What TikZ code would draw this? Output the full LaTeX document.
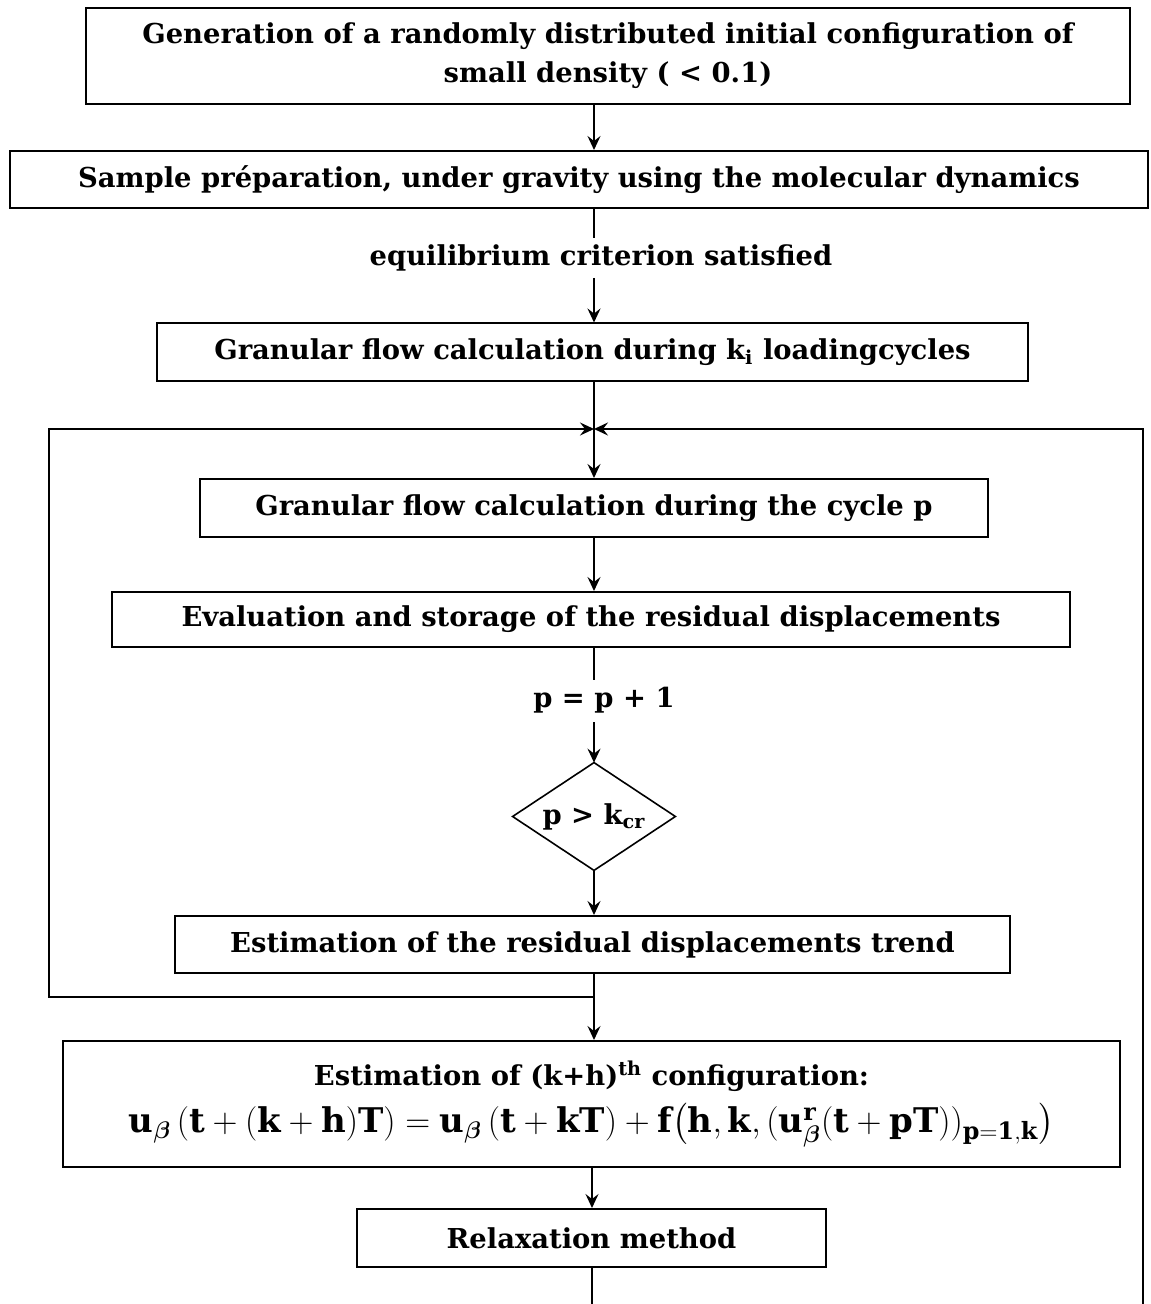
\documentclass[tikz,border=0pt]{standalone}
\usepackage{amsmath}
\usepackage{fontspec}
\setmainfont{DejaVu Serif}
\usetikzlibrary{arrows.meta}

\begin{document}
\begin{tikzpicture}[x=0.5pt,y=-0.5pt,
  every node/.style={font=\fontsize{13.7}{19.5}\selectfont\bfseries},
  stepbox/.style={draw,line width=1pt,inner sep=0pt,align=center},
  decision/.style={inner sep=0pt},
  tag/.style={inner sep=1pt},
  flow/.style={line width=0.8pt,-{Stealth[length=7pt,width=6.5pt,inset=2.5pt]}},
  stem/.style={line width=1.4pt},
  loopline/.style={line width=1pt},
]
\useasboundingbox (0,0) rectangle (1150,1304);

% vertical axis of the chart
\coordinate (axis) at (594,0);

% process boxes
\node[stepbox,minimum width=522pt,minimum height=48pt] (gen) at (608,56)
  {Generation of a randomly distributed initial configuration of\\ small density ( < 0.1)};
\node[stepbox,minimum width=569pt,minimum height=28.5pt] (prep) at (579,179.5)
  {Sample préparation, under gravity using the molecular dynamics};
\node[stepbox,minimum width=435.5pt,minimum height=29pt] (flowk) at (592.5,352.5)
  {Granular flow calculation during k\textsubscript{i} loadingcycles};
\node[stepbox,minimum width=394pt,minimum height=29pt] (flowp) at (594,508)
  {Granular flow calculation during the cycle p};
\node[stepbox,minimum width=479pt,minimum height=27.5pt] (store) at (591,619.5)
  {Evaluation and storage of the residual displacements};
\node[decision,minimum width=81pt,minimum height=53.5pt] (crit) at (594,816.5)
  {p > k\textsubscript{cr}};
\draw[line width=0.8pt] (crit.north) -- (crit.east) -- (crit.south) -- (crit.west) -- cycle;
\node[stepbox,minimum width=417.5pt,minimum height=28.5pt] (trend) at (592.5,944.5)
  {Estimation of the residual displacements trend};
\node[stepbox,minimum width=528.5pt,minimum height=63pt] (estim) at (591.5,1104)
  {Estimation of (k+h)\textsuperscript{th} configuration:\\[4pt]
   {\fontsize{17}{20}\selectfont$\mathbf{u}_{\boldsymbol{\beta}}\,(\mathbf{t}+(\mathbf{k}+\mathbf{h})\mathbf{T})=\mathbf{u}_{\boldsymbol{\beta}}\,(\mathbf{t}+\mathbf{kT})+\mathbf{f}\bigl(\mathbf{h},\mathbf{k},(\mathbf{u}^{\mathbf{r}}_{\boldsymbol{\beta}}(\mathbf{t}+\mathbf{pT}))_{\mathbf{p=1,k}}\bigr)$}};
\node[stepbox,minimum width=234.5pt,minimum height=29pt] (relax) at (591.5,1238)
  {Relaxation method};

% labels on the connectors
\node[tag] (eq) at (601,258) {equilibrium criterion satisfied};
\node[tag] (inc) at (604,700) {p = p + 1};

% junction points
\coordinate (c1) at (594,238);
\coordinate (c2) at (594,278);
\coordinate (c3) at (594,680);
\coordinate (c4) at (594,722);
\coordinate (join) at (594,429);
\coordinate (lb) at (594,997);
\coordinate (lbl) at (49,997);
\coordinate (ltl) at (49,429);
\coordinate (rb) at (1143,1304);
\coordinate (rt) at (1143,429);
\coordinate (out) at (592,1304);

% main flow
\draw[flow] (gen.south -| axis) -- (prep.north -| axis);
\draw[stem] (prep.south -| axis) -- (c1);
\draw[flow] (c2) -- (flowk.north -| axis);
\draw[loopline] (flowk.south -| axis) -- (join);
\draw[flow] (join) -- (flowp.north);
\draw[flow] (flowp.south) -- (store.north -| flowp.south);
\draw[stem] (store.south -| axis) -- (c3);
\draw[flow] (c4) -- (crit.north);
\draw[flow] (crit.south) -- (trend.north -| crit.south);
\draw[flow] (trend.south -| axis) -- (estim.north -| axis);
\draw[flow] (estim.south -| out) -- (relax.north -| out);
\draw[loopline] (relax.south -| out) -- (out);

% feedback loops into the junction
\draw[loopline,-{Stealth[length=7pt,width=6.5pt,inset=2.5pt]}] (lb) -- (lbl) -- (ltl) -- (join);
\draw[loopline,-{Stealth[length=7pt,width=6.5pt,inset=2.5pt]}] (rb) -- (rt) -- (join);
\end{tikzpicture}
\end{document}
